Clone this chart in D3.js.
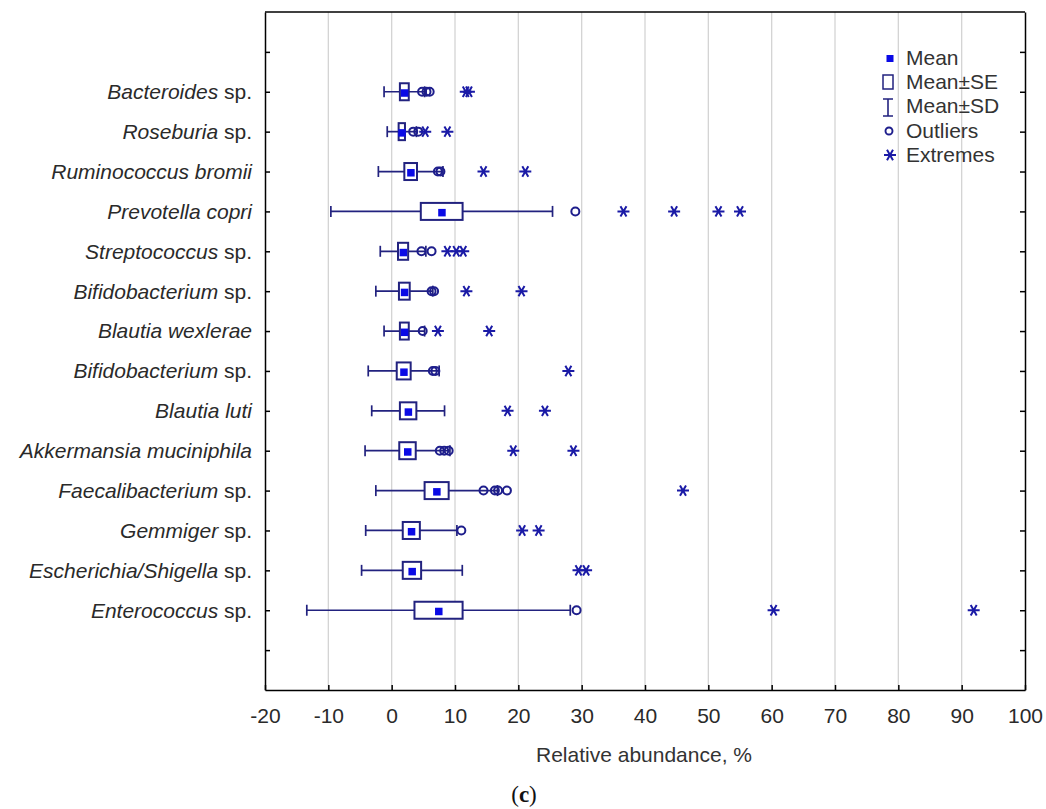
<!DOCTYPE html>
<html><head><meta charset="utf-8">
<script src="https://cdn.jsdelivr.net/npm/d3@7"></script>
<style>
body{margin:0;background:#fff}
text{font-family:"Liberation Sans",Arial,sans-serif}
</style>
</head><body>
<svg id="c" width="1046" height="809"></svg>
<script>
// ---- data (top to bottom) ----
const genus = ["Bacteroides","Roseburia","Ruminococcus bromii","Prevotella copri","Streptococcus","Bifidobacterium","Blautia wexlerae","Bifidobacterium","Blautia luti","Akkermansia muciniphila","Faecalibacterium","Gemmiger","Escherichia/Shigella","Enterococcus"];
const suffix = [" sp."," sp.","",""," sp."," sp.",""," sp.","",""," sp."," sp."," sp."," sp."];
const means = [2.0, 1.6, 3.0, 7.9, 1.8, 2.0, 2.0, 1.9, 2.6, 2.5, 7.1, 3.1, 3.2, 7.4];
const ses   = [0.7, 0.5, 1.0, 3.3, 0.8, 0.85, 0.7, 1.1, 1.3, 1.3, 1.9, 1.35, 1.45, 3.8];
const sds   = [3.2, 2.3, 5.1, 17.5, 3.6, 4.5, 3.2, 5.6, 5.75, 6.7, 9.6, 7.2, 7.95, 20.8];
const outliers = [[4.8,5.5,6.0],[3.4,4.2],[7.3,7.7],[29.0],[4.7,6.3],[6.3,6.7],[4.9],[6.5,6.9],[],[7.6,8.3,9.0],[14.5,16.3,16.8,18.2],[11.0],[],[29.2]];
const extremes = [[11.7,12.2],[5.3,8.8],[14.5,21.1],[36.6,44.6,51.6,55.0],[8.8,10.2,11.3],[11.8,20.5],[7.3,15.4],[27.9],[18.3,24.2],[19.2,28.7],[46.0],[20.6,23.2],[29.5,30.7],[60.3,91.9]];
const xTicks = [-20,-10,0,10,20,30,40,50,60,70,80,90,100];
const legendLabels = ["Mean","Mean\u00B1SE","Mean\u00B1SD","Outliers","Extremes"];
const xTitle = "Relative abundance, %";
const panelLetter = "c";

// ---- layout ----
const L = 265, R = 1025, T = 12, B = 690;
const lineCol = "#22227f", meanCol = "#0a0ae6", outCol = "#1e1e8c", extCol = "#1a1aa6";
const svg = d3.select("#c");
const x = d3.scaleLinear().domain([-20, 100]).range([L, R]);
const y = d3.scaleLinear().domain([0, 17]).range([T, B]);
const yc = i => y(i + 2);

// grid
svg.append("g").selectAll("line").data(xTicks.slice(1, -1)).join("line")
  .attr("x1", d => x(d)).attr("x2", d => x(d)).attr("y1", T).attr("y2", B)
  .attr("stroke", "#d4d4d4").attr("stroke-width", 1.3);

// axes
const styleAxis = g => {
  g.selectAll("path,line").attr("stroke", "#000").attr("stroke-width", 1.5);
  g.selectAll("text").attr("font-size", 21).attr("fill", "#2a2a2a")
   .attr("font-family", "'Liberation Sans',Arial,sans-serif");
};
svg.append("g").attr("transform", `translate(0,${B})`)
  .call(d3.axisBottom(x).tickValues(xTicks).tickFormat(d => String(d))
    .tickSizeInner(-5).tickSizeOuter(0).tickPadding(18))
  .call(styleAxis);
svg.append("g").attr("transform", `translate(${L},0)`)
  .call(d3.axisLeft(y).tickValues(d3.range(1, 17)).tickSizeInner(-5).tickSizeOuter(0).tickFormat(""))
  .call(styleAxis);
svg.append("g").attr("transform", `translate(${R},0)`)
  .call(d3.axisRight(y).tickValues(d3.range(1, 17)).tickSizeInner(-5).tickSizeOuter(0).tickFormat(""))
  .call(styleAxis);
svg.append("line").attr("x1", L).attr("x2", R).attr("y1", T).attr("y2", T)
  .attr("stroke", "#000").attr("stroke-width", 1.5);

// category labels
const lab = svg.append("g").selectAll("text").data(genus).join("text")
  .attr("x", 252).attr("y", (d, i) => yc(i)).attr("dy", "0.35em")
  .attr("text-anchor", "end").attr("font-size", 21).attr("fill", "#2a2a2a");
lab.append("tspan").attr("font-style", "italic").text(d => d);
lab.append("tspan").text((d, i) => suffix[i]);

// asterisk path
const star = (cx, cy, r) => {
  let p = "";
  [0, 60, 120].forEach(a => {
    const t = a * Math.PI / 180, dx = r * Math.cos(t), dy = r * Math.sin(t);
    p += `M${cx - dx},${cy - dy}L${cx + dx},${cy + dy}`;
  });
  return p;
};

// boxes
const g = svg.append("g");
genus.forEach((d, i) => {
  const cy = yc(i), m = means[i], se = ses[i], sd = sds[i];
  g.append("line").attr("x1", x(m - sd)).attr("x2", x(m + sd)).attr("y1", cy).attr("y2", cy)
    .attr("stroke", lineCol).attr("stroke-width", 1.7);
  [m - sd, m + sd].forEach(v => g.append("line").attr("x1", x(v)).attr("x2", x(v))
    .attr("y1", cy - 5.5).attr("y2", cy + 5.5).attr("stroke", lineCol).attr("stroke-width", 1.7));
  g.append("rect").attr("x", x(m - se)).attr("y", cy - 8.5).attr("width", x(m + se) - x(m - se)).attr("height", 17)
    .attr("fill", "#fff").attr("stroke", lineCol).attr("stroke-width", 2);
  g.append("rect").attr("x", x(m) - 3.5).attr("y", cy - 2.5).attr("width", 7.5).attr("height", 7.5).attr("fill", meanCol);
  outliers[i].forEach(v => g.append("circle").attr("cx", x(v)).attr("cy", cy).attr("r", 4)
    .attr("fill", "none").attr("stroke", outCol).attr("stroke-width", 2));
  extremes[i].forEach(v => g.append("path").attr("d", star(x(v), cy, 6))
    .attr("stroke", extCol).attr("stroke-width", 2).attr("fill", "none"));
});

// legend
const lg = svg.append("g");
const ly = [65, 89, 113, 138, 162];
lg.append("rect").attr("x", 886.5).attr("y", 55).attr("width", 7).attr("height", 7).attr("fill", meanCol);
lg.append("rect").attr("x", 883).attr("y", 75).attr("width", 10).attr("height", 14)
  .attr("fill", "none").attr("stroke", lineCol).attr("stroke-width", 1.5);
lg.append("path").attr("d", "M883,99L893,99M888,99L888,116M883,116L893,116")
  .attr("stroke", lineCol).attr("stroke-width", 1.6).attr("fill", "none");
lg.append("circle").attr("cx", 889).attr("cy", 131).attr("r", 3.5)
  .attr("fill", "none").attr("stroke", outCol).attr("stroke-width", 1.9);
lg.append("path").attr("d", star(890, 155, 6)).attr("stroke", extCol).attr("stroke-width", 2);
lg.selectAll("text").data(legendLabels).join("text")
  .attr("x", 906).attr("y", (d, i) => ly[i]).attr("font-size", 21).attr("fill", "#333").text(d => d);

// titles
svg.append("text").attr("x", 644).attr("y", 762).attr("text-anchor", "middle")
  .attr("font-size", 21).attr("fill", "#333").text(xTitle);
const pl = svg.append("text").attr("x", 524).attr("y", 802).attr("text-anchor", "middle")
  .attr("font-size", 23).attr("fill", "#111").style("font-family", "'Liberation Serif','DejaVu Serif',serif");
pl.append("tspan").text("(");
pl.append("tspan").attr("font-weight", "bold").text(panelLetter);
pl.append("tspan").text(")");
</script>
</body></html>
